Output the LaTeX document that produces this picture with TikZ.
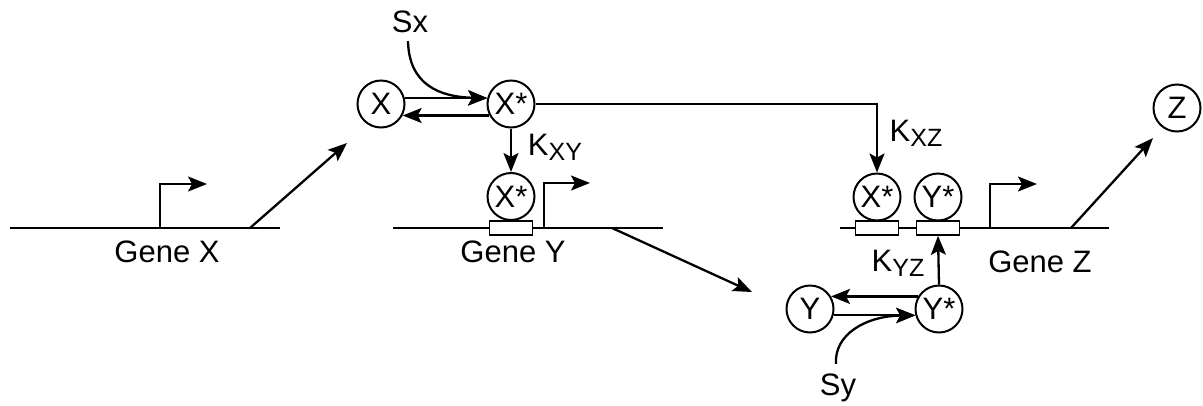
\documentclass[tikz,border=0pt]{standalone}
\usepackage{fontspec}
\setmainfont{Liberation Sans}
\usetikzlibrary{arrows.meta,calc}
\newcommand{\sub}[1]{\raisebox{-5pt}{\fontsize{25}{25}\selectfont #1}}
\begin{document}
\begin{tikzpicture}[x=1pt,y=-1pt,
  every node/.style={font=\fontsize{31}{33}\selectfont},
  mol/.style={draw,circle,minimum size=47pt,inner sep=0pt,line width=2pt},
  site/.style={draw,fill=white,line width=1.7pt,minimum width=43pt,minimum height=14pt,inner sep=0pt},
  ln/.style={line width=2.3pt},
  arr/.style={line width=2.3pt,-{Stealth[length=19pt,width=15pt,inset=4pt]}},
  lbl/.style={inner sep=0pt}]
\useasboundingbox (0,0) rectangle (1203,405);

% Gene X
\coordinate (gx1) at (10,228); \coordinate (gx2) at (280,228);
\draw[ln] (gx1) -- (gx2);
\coordinate (px) at (160,228); \coordinate (pxe) at (207,184);
\draw[arr] (px) |- (pxe);
\coordinate (ax1) at (250,228); \coordinate (ax2) at (347,143);
\draw[arr] (ax1) -- (ax2);
\node[lbl] (GX) at (167,252) {Gene X};

% X cycle
\node[mol] (X) at (381,104) {X};
\node[mol] (Xs) at (511,104) {X*};
\node[lbl] (Sx) at (410,22) {Sx};
\draw[arr] (X.14) -- (Xs.166);
\draw[arr] (Xs.208) -- (X.-28);
\draw[arr] (Sx.south) ++(-2,8) .. controls (409,85) and (440,97) .. (Xs.166);

% Gene Y
\coordinate (gy1) at (393,228); \coordinate (gy2) at (663,228);
\draw[ln] (gy1) -- (gy2);
\node[site] (sY) at (511,228) {};
\node[mol] (XsY) at (511,196.5) {X*};
\coordinate (py) at (544,228); \coordinate (pye) at (590,183);
\draw[arr] (py) |- (pye);
\coordinate (ay1) at (612,228); \coordinate (ay2) at (752,292);
\draw[arr] (ay1) -- (ay2);
\node[lbl] (GY) at (513,252) {Gene Y};
\draw[arr] (Xs.south) -- (XsY.north);
\node[lbl] (KXY) at (555,147) {K\sub{XY}};

% X* to Gene Z
\node[site] (sZ1) at (877,228) {};
\node[site] (sZ2) at (938,228) {};
\coordinate (gz1) at (840,228); \coordinate (gz2) at (1109,228);
\draw[ln] (gz1) -- (sZ1.west) (sZ1.east) -- (sZ2.west) (sZ2.east) -- (gz2);
\node[mol] (XsZ) at (877,197) {X*};
\node[mol] (YsZ) at (938,197) {Y*};
\draw[arr] (Xs.east) -| (XsZ.north);
\node[lbl] (KXZ) at (916,133) {K\sub{XZ}};
\coordinate (pz) at (990,228); \coordinate (pze) at (1037,184);
\draw[arr] (pz) |- (pze);
\coordinate (az1) at (1071,228); \coordinate (az2) at (1153,138);
\draw[arr] (az1) -- (az2);
\node[mol] (Z) at (1177,108) {Z};
\node[lbl] (GZ) at (1040,262) {Gene Z};

% Y cycle
\node[mol] (Y) at (810,309) {Y};
\node[mol] (Ys) at (939,309) {Y*};
\draw[arr] (Ys.149) -- (Y.31);
\draw[arr] (Y.-15) -- (Ys.195);
\node[lbl] (Sy) at (838,388) {Sy};
\draw[arr] (Sy.north) ++(-2,-10) .. controls (834,335) and (865,316) .. (Ys.195);
\draw[arr] (Ys.north) -- (sZ2.south);
\node[lbl] (KYZ) at (898,263) {K\sub{YZ}};
\end{tikzpicture}
\end{document}
